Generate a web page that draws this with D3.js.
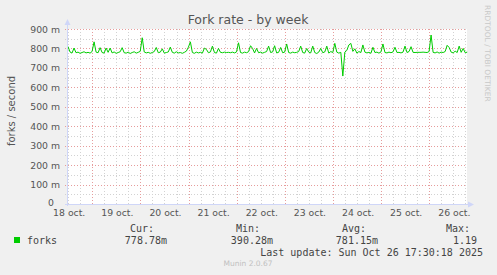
<!DOCTYPE html>
<html><head><meta charset="utf-8">
<script src="https://cdn.jsdelivr.net/npm/d3@7"></script>
<style>
html,body{margin:0;padding:0;background:#f0f0f0;}
svg{display:block;}
</style></head>
<body>
<script>
const title = "Fork rate - by week";
const yLabel = "forks / second";
const yTicks = [0,100,200,300,400,500,600,700,800,900];
const yTickLabels = ["0","100 m","200 m","300 m","400 m","500 m","600 m","700 m","800 m","900 m"];
const dayLabels = ["18 oct.","19 oct.","20 oct.","21 oct.","22 oct.","23 oct.","24 oct.","25 oct.","26 oct."];
const seriesName = "forks";
const legendHeads = ["Cur:","Min:","Avg:","Max:"];
const legendValues = ["778.78m","390.28m","781.15m","1.19"];
const lastUpdate = "Last update: Sun Oct 26 17:30:18 2025";
const footer = "Munin 2.0.67";
const sideText = "RRDTOOL / TOBI OETIKER";
// hourly samples (milli-forks/s), starting 18 oct ~11:30
const forks = [
810,782,776,802,778,781,775,779,783,777,780,776,784,834,781,778,804,779,776,802,
780,802,777,782,775,779,783,804,778,776,781,774,779,783,776,780,785,855,782,777,
780,775,779,784,805,778,781,798,776,779,782,807,780,776,783,777,779,775,780,786,
806,834,779,775,781,777,780,776,802,795,778,782,812,779,776,800,780,778,781,779,
780,778,781,777,782,829,779,776,781,778,783,814,800,777,800,778,781,776,780,784,
812,779,782,814,777,780,805,778,781,823,779,776,781,778,780,784,812,779,776,800,
781,777,812,779,774,781,800,778,782,812,776,784,779,826,781,776,780,658,781,790,
818,826,785,798,776,784,779,818,781,777,780,775,806,779,781,776,782,823,779,777,
781,778,782,806,779,780,777,781,812,779,784,809,780,779,780,780,780,781,780,779,
784,869,780,777,782,776,781,779,784,816,805,781,777,786,779,812,780,800,778,781];

const W = 497, H = 275;
const L = 67, R = 467, T = 29, B = 204;
const t0 = new Date(2025,9,18,11,24);
const t1 = new Date(2025,9,26,18,48);

const svg = d3.select("body").append("svg").attr("width",W).attr("height",H)
  .style("font-family","'DejaVu Sans', sans-serif");
svg.append("rect").attr("width",W).attr("height",H).attr("fill","#f0f0f0");

const x = d3.scaleTime().domain([t0,t1]).range([L,R]);
const y = d3.scaleLinear().domain([0,900]).range([B,T]);

svg.append("rect").attr("x",L).attr("y",T).attr("width",R-L).attr("height",B-T).attr("fill","#ffffff");

const grid = svg.append("g").attr("shape-rendering","crispEdges");
const minorCol = "#d2d2d2", majorCol = "#e69c9c";
d3.range(50,900,100).forEach(v=>{
  grid.append("line").attr("x1",L-2).attr("x2",R).attr("y1",Math.round(y(v))+0.5).attr("y2",Math.round(y(v))+0.5)
    .attr("stroke",minorCol).attr("stroke-dasharray","1,2");
});
d3.timeHour.every(6).range(t0,t1).forEach(t=>{
  if (t.getHours()===0) return;
  const xx = Math.round(x(t))+0.5;
  grid.append("line").attr("x1",xx).attr("x2",xx).attr("y1",T).attr("y2",B+2)
    .attr("stroke",minorCol).attr("stroke-dasharray","1,2");
});
yTicks.slice(1).forEach(v=>{
  grid.append("line").attr("x1",L-2).attr("x2",R).attr("y1",Math.round(y(v))+0.5).attr("y2",Math.round(y(v))+0.5)
    .attr("stroke",majorCol).attr("stroke-dasharray","1,2");
});
d3.timeDay.range(t0,t1).forEach(t=>{
  const xx = Math.round(x(t))+0.5;
  grid.append("line").attr("x1",xx).attr("x2",xx).attr("y1",T).attr("y2",B+2)
    .attr("stroke",majorCol).attr("stroke-dasharray","1,2");
});

yTicks.forEach((v,i)=>{
  svg.append("text").attr("x",v===0?54:60).attr("y",y(v)+(v===0?2:3.5)).attr("text-anchor","end")
    .attr("font-size","9.3px").attr("fill","#555").text(yTickLabels[i]);
});
const days = d3.timeDay.range(d3.timeDay.floor(t0), t1);
days.forEach((d,i)=>{
  const noon = d3.timeHour.offset(d,12);
  svg.append("text").attr("x",x(noon)+1).attr("y",215.5).attr("text-anchor","middle")
    .attr("font-size","9.3px").attr("fill","#555").text(dayLabels[i]);
});

const line = d3.line().x((d,i)=>x(d3.timeMinute.offset(t0, 30 + i*60))).y(d=>y(d));
svg.append("path").datum(forks).attr("d",line).attr("fill","none")
  .attr("stroke","#00cc00").attr("stroke-width",1);

const axisCol = "#cfd6f8";
svg.append("line").attr("x1",L+0.5).attr("x2",L+0.5).attr("y1",B+2).attr("y2",22)
  .attr("stroke",axisCol).attr("shape-rendering","crispEdges");
svg.append("path").attr("d",`M${L-2.5},25 L${L+3.5},25 L${L+0.5},19 Z`).attr("fill",axisCol);
svg.append("line").attr("x1",L-2).attr("x2",470).attr("y1",B+0.5).attr("y2",B+0.5)
  .attr("stroke",axisCol).attr("shape-rendering","crispEdges");
svg.append("path").attr("d",`M468,${B-2.5} L468,${B+3.5} L474,${B+0.5} Z`).attr("fill",axisCol);

svg.append("text").attr("x",248).attr("y",24).attr("text-anchor","middle")
  .attr("font-size","12.5px").attr("fill","#555").text(title);
svg.append("text").attr("transform","translate(15,111) rotate(-90)").attr("text-anchor","middle")
  .attr("font-size","10px").attr("fill","#555").text(yLabel);
svg.append("text").attr("transform","translate(485,5) rotate(90)").attr("text-anchor","start")
  .attr("font-size","7.5px").attr("fill","#c8c8c8").text(sideText);

const mono = "'DejaVu Sans Mono', monospace";
svg.append("rect").attr("x",14).attr("y",237).attr("width",6).attr("height",6).attr("fill","#00cc00");
svg.append("text").attr("x",27).attr("y",243.5).attr("font-family",mono).attr("font-size","10px")
  .attr("fill","#444").text(seriesName);
const headX = [154,260,366,470];
const valX = [167,273,378,477];
legendHeads.forEach((h,i)=>{
  svg.append("text").attr("x",headX[i]).attr("y",232).attr("text-anchor","end")
    .attr("font-family",mono).attr("font-size","10px").attr("fill","#444").text(h);
  svg.append("text").attr("x",valX[i]).attr("y",243.5).attr("text-anchor","end")
    .attr("font-family",mono).attr("font-size","10px").attr("fill","#444").text(legendValues[i]);
});
svg.append("text").attr("x",483).attr("y",255.5).attr("text-anchor","end")
  .attr("font-family",mono).attr("font-size","10px").attr("fill","#444").text(lastUpdate);
svg.append("text").attr("x",248).attr("y",266).attr("text-anchor","middle")
  .attr("font-size","7.5px").attr("fill","#c0c0c0").text(footer);
</script>
</body></html>
